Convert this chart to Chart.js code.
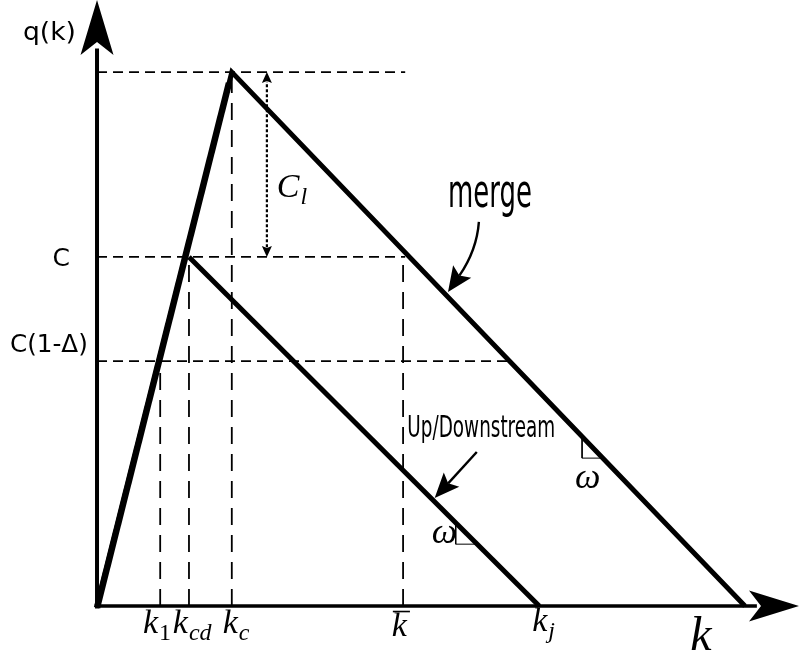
<!DOCTYPE html>
<html>
<head>
<meta charset="utf-8">
<script src="https://cdn.jsdelivr.net/npm/chart.js@4.4.0/dist/chart.umd.min.js"></script>
<style>
  html, body { margin: 0; padding: 0; background: #fff; }
  canvas { display: block; }
</style>
</head>
<body>
<canvas id="fd" width="799" height="657"></canvas>
<script>
// densities along the k axis
const densityNames = ['k1', 'kcd', 'kc', 'kbar', 'kj', 'kjMerge'];
const densityValues = [9.0, 13.1, 19.2, 43.6, 63.0, 92.3];
// flow levels along the q axis
const flowNames = ['Cmerge', 'C', 'C(1-Δ)'];
const flowValues = [88.1, 57.6, 40.4];
// where the horizontal guides stop (k)
const guideEnds = [43.9, 43.9, 58.8];

const [k1, kcd, kc, kbar, kj, kjM] = densityValues;
const [Cm, C, Cd] = flowValues;

const X_RANGE = [-13.82, 100];
const Y_RANGE = [-8.42, 100];

const line = (pts, width, dash, order) => ({
  data: pts,
  showLine: true,
  borderColor: '#000',
  borderWidth: width,
  borderDash: dash || [],
  borderCapStyle: 'butt',
  borderJoinStyle: 'miter',
  pointRadius: 0,
  fill: false,
  tension: 0,
  order: order
});

// congested branch helpers for the little slope triangles
const upY = x => C * (kj - x) / (kj - kcd);
const upX = y => kj - y * (kj - kcd) / C;
const mgY = x => Cm * (kjM - x) / (kjM - kc);
const mgX = y => kjM - y * (kjM - kc) / Cm;

const datasets = [
  // triangular diagrams
  line([{x: 0, y: 0}, {x: kc, y: Cm}, {x: kjM, y: 0}], 5, null, 0),
  line([{x: 0, y: -0.3}, {x: kc - 0.4, y: Cm - 1.8}], 6.5, null, 0),
  line([{x: kcd, y: C}, {x: kj, y: 0}], 5, null, 0),
  // axes
  line([{x: 0, y: -0.4}, {x: 0, y: 92}], 4, null, 0),
  line([{x: 0, y: 0}, {x: 94, y: 0}], 3.5, null, 0),
  // horizontal guides
  line([{x: 0, y: Cm}, {x: guideEnds[0], y: Cm}], 1.8, [10, 6], 1),
  line([{x: 0, y: C}, {x: guideEnds[1], y: C}], 1.8, [10, 6], 1),
  line([{x: 0, y: Cd}, {x: guideEnds[2], y: Cd}], 1.8, [10, 6], 1),
  // vertical guides
  line([{x: k1, y: 0}, {x: k1, y: Cd}], 1.8, [17, 10], 1),
  line([{x: kcd, y: 0}, {x: kcd, y: C}], 1.8, [17, 10], 1),
  line([{x: kc, y: 0}, {x: kc, y: Cm}], 1.8, [17, 10], 1),
  line([{x: kbar, y: 0}, {x: kbar, y: C}], 1.8, [17, 10], 1),
  // capacity drop C_l
  line([{x: 24.2, y: C + 1.6}, {x: 24.2, y: Cm - 1.6}], 2.2, [3, 2], 1),
  // slope markers
  line([{x: 51.1, y: upY(51.1)}, {x: 51.1, y: 10.2}, {x: upX(10.2), y: 10.2}], 1, null, 1),
  line([{x: 69.1, y: mgY(69.1)}, {x: 69.1, y: 24.4}, {x: mgX(24.4), y: 24.4}], 1, null, 1)
];

function arrowHead(ctx, tip, from, len, half, notch) {
  const dx = tip.x - from.x, dy = tip.y - from.y;
  const d = Math.hypot(dx, dy);
  const ux = dx / d, uy = dy / d;
  const nx = -uy, ny = ux;
  const bx = tip.x - ux * len, by = tip.y - uy * len;
  ctx.beginPath();
  ctx.moveTo(tip.x, tip.y);
  ctx.lineTo(bx + nx * half, by + ny * half);
  ctx.lineTo(tip.x - ux * (len - notch), tip.y - uy * (len - notch));
  ctx.lineTo(bx - nx * half, by - ny * half);
  ctx.closePath();
  ctx.fill();
}

function sansText(ctx, str, x, y, size, align, width) {
  ctx.save();
  ctx.font = size + 'px "DejaVu Sans"';
  ctx.textBaseline = 'alphabetic';
  const w = ctx.measureText(str).width;
  const sx = width ? width / w : 1;
  let left = x;
  if (align === 'right') left = x - w * sx;
  ctx.translate(left, y);
  ctx.scale(sx, 1);
  ctx.textAlign = 'left';
  ctx.fillText(str, 0, 0);
  ctx.restore();
}

function mathText(ctx, x, y, base, sub, size, subItalic, bar) {
  ctx.save();
  ctx.textAlign = 'left';
  ctx.textBaseline = 'alphabetic';
  ctx.font = 'italic ' + size + 'px "Liberation Serif"';
  ctx.fillText(base, x, y);
  const w = ctx.measureText(base).width;
  if (bar) {
    ctx.lineWidth = 1.6;
    ctx.beginPath();
    ctx.moveTo(x + 1, y - size * 0.72);
    ctx.lineTo(x + w + 3, y - size * 0.72);
    ctx.stroke();
  }
  if (sub) {
    const s = Math.round(size * 0.7);
    ctx.font = (subItalic ? 'italic ' : '') + s + 'px "Liberation Serif"';
    ctx.fillText(sub, x + w + 1, y + size * 0.2);
  }
  ctx.restore();
}

const annotate = {
  id: 'annotate',
  afterDatasetsDraw(chart) {
    const ctx = chart.ctx;
    const xs = chart.scales.x, ys = chart.scales.y;
    const P = (x, y) => ({x: xs.getPixelForValue(x), y: ys.getPixelForValue(y)});
    ctx.save();
    ctx.fillStyle = '#000';
    ctx.strokeStyle = '#000';

    // axis arrows
    arrowHead(ctx, P(0, 100), P(0, 0), 55, 16.5, 13);
    arrowHead(ctx, P(100, 0), P(0, 0), 50, 15.5, 12);

    // C_l arrowheads
    arrowHead(ctx, P(24.2, Cm), P(24.2, C), 11, 5, 2);
    arrowHead(ctx, P(24.2, C), P(24.2, Cm), 11, 5, 2);

    // merge pointer (curved)
    const m0 = P(54.4, 63.4), mc = P(54.1, 58.7), mt = P(50.0, 51.8);
    const mdx = mt.x - mc.x, mdy = mt.y - mc.y, md = Math.hypot(mdx, mdy);
    const mb = {x: mt.x - mdx / md * 20, y: mt.y - mdy / md * 20};
    ctx.lineWidth = 2.4;
    ctx.beginPath();
    ctx.moveTo(m0.x, m0.y);
    ctx.quadraticCurveTo(mc.x, mc.y, mb.x, mb.y);
    ctx.stroke();
    arrowHead(ctx, mt, mc, 25, 11, 5);

    // up/downstream pointer
    const u0 = P(54.1, 25.4), ut = P(48.1, 17.8);
    const udx = ut.x - u0.x, udy = ut.y - u0.y, ud = Math.hypot(udx, udy);
    ctx.beginPath();
    ctx.moveTo(u0.x, u0.y);
    ctx.lineTo(ut.x - udx / ud * 20, ut.y - udy / ud * 20);
    ctx.stroke();
    arrowHead(ctx, ut, u0, 25, 10.5, 5);

    // sans labels
    let p = P(-3.0, 93.4);
    sansText(ctx, 'q(k)', p.x, p.y, 25, 'right', 53);
    p = P(-3.85, C);
    sansText(ctx, flowNames[1].charAt(0), p.x, p.y + 9, 25, 'right');
    p = P(-1.3, 43.4);
    sansText(ctx, flowNames[2], p.x, p.y + 9, 25, 'right', 78);
    p = P(50.0, 65.8);
    sansText(ctx, 'merge', p.x, p.y, 46, 'left', 84);
    p = P(44.2, 27.9);
    sansText(ctx, 'Up/Downstream', p.x, p.y, 31, 'left', 148);

    // density tick labels
    const kBase = ys.getPixelForValue(-4.46);
    mathText(ctx, xs.getPixelForValue(6.55), kBase, 'k', '1', 34, false);
    mathText(ctx, xs.getPixelForValue(10.8), kBase, 'k', 'cd', 34, true);
    mathText(ctx, xs.getPixelForValue(17.9), kBase, 'k', 'c', 34, true);
    mathText(ctx, xs.getPixelForValue(42.0), kBase + 3, 'k', null, 34, true, true);
    mathText(ctx, xs.getPixelForValue(62.0), kBase - 2, 'k', 'j', 34, true);

    // axis name, capacity drop, wave speeds
    p = P(84.5, -7.26);
    mathText(ctx, p.x, p.y, 'k', null, 48);
    p = P(25.6, 67.5);
    mathText(ctx, p.x, p.y, 'C', 'l', 34, true);
    p = P(47.7, 10.4);
    mathText(ctx, p.x, p.y, 'ω', null, 36);
    p = P(68.1, 19.5);
    mathText(ctx, p.x, p.y, 'ω', null, 36);

    ctx.restore();
  }
};

new Chart(document.getElementById('fd'), {
  type: 'scatter',
  data: {datasets: datasets},
  options: {
    responsive: false,
    animation: false,
    layout: {padding: 0},
    plugins: {legend: {display: false}, tooltip: {enabled: false}},
    scales: {
      x: {type: 'linear', min: X_RANGE[0], max: X_RANGE[1], display: false},
      y: {type: 'linear', min: Y_RANGE[0], max: Y_RANGE[1], display: false}
    }
  },
  plugins: [annotate]
});
</script>
</body>
</html>
